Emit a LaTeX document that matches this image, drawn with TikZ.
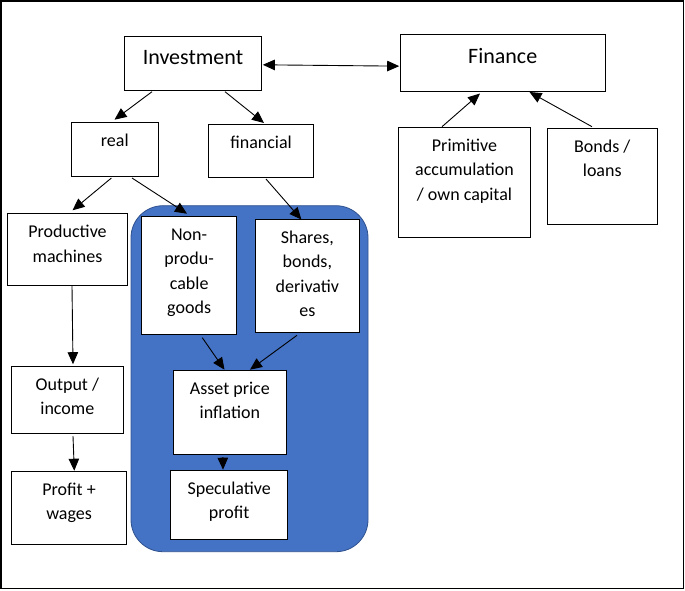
\documentclass[tikz,border=0pt]{standalone}
\usepackage{fontspec}
\setmainfont{Carlito}
\usetikzlibrary{arrows.meta,calc}
\definecolor{blueregion}{HTML}{4472C4}
\definecolor{blueedge}{HTML}{2F528F}
\begin{document}
\begin{tikzpicture}[x=1pt,y=-1pt,
  box/.style={draw=black, line width=1pt, fill=white, inner sep=0pt, anchor=north west},
  lbl/.style={anchor=north, inner sep=0pt, yshift=-10.2pt, align=center, font=\fontsize{18}{24.5}\selectfont},
  biglbl/.style={anchor=north, inner sep=0pt, yshift=-10.6pt, align=center, font=\fontsize{22}{26}\selectfont},
  arr/.style={draw=black, line width=0.9pt, -{Triangle[length=12pt,width=10.5pt]}},
  darr/.style={draw=black, line width=0.9pt, {Triangle[length=12pt,width=10.5pt]}-{Triangle[length=12pt,width=10.5pt]}}]
\useasboundingbox (0,0) rectangle (685,590);
\draw[line width=1.5pt] (1,1) rectangle (683.5,588.5);
% blue region
\draw[fill=blueregion, draw=blueedge, line width=0.8pt, rounded corners=32pt] (131,205.7) rectangle (368,551.7);
% boxes
\node[box, minimum width=137.7pt, minimum height=54pt, label={[biglbl]north:{\rule{0pt}{18pt}Investment}}] (inv) at (123.6,36) {};
\node[box, minimum width=205pt, minimum height=56.7pt, label={[biglbl]north:{\rule{0pt}{18pt}Finance}}] (fin) at (399.7,34.3) {};
\node[box, minimum width=87pt, minimum height=54pt, label={[lbl]north:{\rule{0pt}{14pt}real}}] (real) at (70.8,121.7) {};
\node[box, minimum width=104.4pt, minimum height=52.7pt, label={[lbl]north:{\rule{0pt}{14pt}financial}}] (finl) at (208.4,124) {};
\node[box, minimum width=132pt, minimum height=110.6pt, label={[lbl]north:{\rule{0pt}{14pt}Primitive\\accumulation\\/ own capital}}] (prim) at (398,126.7) {};
\node[box, minimum width=110.5pt, minimum height=96.3pt, label={[lbl]north:{\rule{0pt}{14pt}Bonds /\\loans}}] (bonds) at (546.5,127.7) {};
\node[box, minimum width=119.3pt, minimum height=71.7pt, label={[lbl]north:{\rule{0pt}{14pt}Productive\\machines}}] (prod) at (7.4,213.3) {};
\node[box, minimum width=95.3pt, minimum height=118.3pt, label={[lbl]north:{\rule{0pt}{14pt}Non-\\produ-\\cable\\goods}}] (non) at (141,215.7) {};
\node[box, minimum width=103.7pt, minimum height=112.7pt, label={[lbl]north:{\rule{0pt}{14pt}Shares,\\bonds,\\derivativ\\es}}] (shares) at (255,219) {};
\node[box, minimum width=111.9pt, minimum height=67pt, label={[lbl]north:{\rule{0pt}{14pt}Output /\\income}}] (output) at (10.9,365.7) {};
\node[box, minimum width=112.7pt, minimum height=84.6pt, label={[lbl]north:{\rule{0pt}{14pt}Asset price\\inflation}}] (asset) at (173,369.7) {};
\node[box, minimum width=115.4pt, minimum height=73pt, label={[lbl]north:{\rule{0pt}{14pt}Profit +\\wages}}] (profit) at (10.9,470.7) {};
\node[box, minimum width=116.6pt, minimum height=69.3pt, label={[lbl]north:{\rule{0pt}{14pt}Speculative\\profit}}] (spec) at (170.4,469.7) {};
% connectors
\draw[darr] ($(inv.east)+(0.5,1.3)$) -- ($(fin.west)+(-0.5,3)$);
\draw[arr] ($(inv.south west)+(28.4,0.7)$) -- ($(real.north west)+(43.7,-2)$);
\draw[arr] ($(inv.south west)+(101.4,0.7)$) -- ($(finl.north west)+(55.6,-1)$);
\draw[arr] ($(prim.north west)+(44,0)$) -- ($(fin.south west)+(80.3,1.5)$);
\draw[arr] ($(bonds.north west)+(45.5,-1)$) -- ($(fin.south west)+(129.8,0)$);
\draw[arr] ($(real.south west)+(40.6,1.3)$) -- ($(prod.north west)+(65.1,-3)$);
\draw[arr] ($(real.south west)+(61.2,1.3)$) -- ($(non.north west)+(46,-2)$);
\draw[arr] ($(finl.south west)+(57.6,1.3)$) -- ($(shares.north west)+(46.4,0.5)$);
\draw[arr] ($(prod.south west)+(64.6,0)$) -- ($(output.north west)+(62.1,-1.5)$);
\draw[arr] ($(output.south west)+(62.1,2.3)$) -- ($(profit.north west)+(63.4,0)$);
\draw[arr] ($(non.south west)+(61.3,2.7)$) -- ($(asset.north west)+(51.5,0)$);
\draw[arr] ($(shares.south west)+(42,2.6)$) -- ($(asset.north west)+(77,0)$);
\draw[arr] ($(asset.south west)+(49.8,1.7)$) -- ($(spec.north west)+(52.6,0)$);
\end{tikzpicture}
\end{document}
